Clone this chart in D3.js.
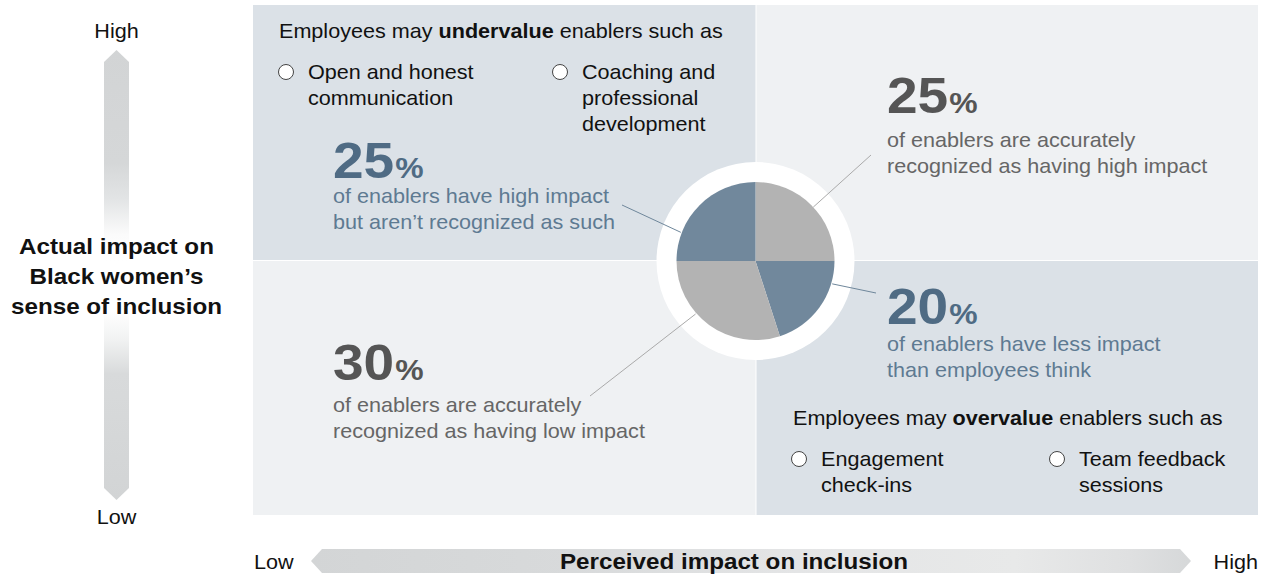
<!DOCTYPE html>
<html>
<head>
<meta charset="utf-8">
<script src="https://cdn.jsdelivr.net/npm/d3@7"></script>
<style>
  html, body { margin: 0; padding: 0; background: #fff; }
  svg { display: block; font-family: "Liberation Sans", Arial, sans-serif; }
</style>
</head>
<body>
<svg id="chart" width="1267" height="575"></svg>
<script>
// ---- data ----
const sliceKeys   = ["accurateHigh", "overvalued", "accurateLow", "undervalued"];
const sliceValues = [25, 20, 30, 25];               // share of enablers, clockwise from 12 o'clock
const sliceKinds  = ["accurate", "mismatch", "accurate", "mismatch"];

const calloutValues = { undervalued: 25, accurateHigh: 25, overvalued: 20, accurateLow: 30 };
const calloutLines = {
  undervalued:  ["of enablers have high impact", "but aren\u2019t recognized as such"],
  accurateHigh: ["of enablers are accurately", "recognized as having high impact"],
  overvalued:   ["of enablers have less impact", "than employees think"],
  accurateLow:  ["of enablers are accurately", "recognized as having low impact"]
};

const underExamples = [["Open and honest", "communication"], ["Coaching and", "professional", "development"]];
const overExamples  = [["Engagement", "check-ins"], ["Team feedback", "sessions"]];

const yAxisTitle = ["Actual impact on", "Black women\u2019s", "sense of inclusion"];
const xAxisTitle = "Perceived impact on inclusion";
const axisEnds   = ["Low", "High"];

// ---- styles ----
const C = {
  qDark: "#dbe1e7", qLight: "#eff1f3",
  blue: "#71889c", gray: "#b3b3b3",
  blueText: "#4f6b84", blueBody: "#5e7a92",
  grayText: "#555555", grayBody: "#666666",
  ink: "#111111"
};
const SX = 1.08;      // horizontal stretch of the regular type
const SXB = 1.1;      // horizontal stretch of the bold type

const svg = d3.select("#chart");
const defs = svg.append("defs");

// text placed at (x, y) and widened horizontally about its anchor
function label(parent, x, y, sx) {
  return parent.append("g").attr("transform", `translate(${x},${y}) scale(${sx},1)`)
    .append("text").attr("x", 0).attr("y", 0);
}

// ---- quadrant frame ----
const x = d3.scaleLinear().domain([0, 1]).range([253, 1258]);
const y = d3.scaleLinear().domain([0, 1]).range([515, 5]);
const gap = 1;
const quads = [
  { x0: 0,   x1: 0.5, y0: 0.5, y1: 1,   fill: C.qDark  },
  { x0: 0.5, x1: 1,   y0: 0.5, y1: 1,   fill: C.qLight },
  { x0: 0,   x1: 0.5, y0: 0,   y1: 0.5, fill: C.qLight },
  { x0: 0.5, x1: 1,   y0: 0,   y1: 0.5, fill: C.qDark  }
];
svg.append("g").selectAll("rect").data(quads).join("rect")
  .attr("x", d => x(d.x0) + (d.x0 > 0 ? gap : 0))
  .attr("y", d => y(d.y1) + (d.y1 < 1 ? gap : 0))
  .attr("width", d => x(d.x1) - x(d.x0) - (d.x0 > 0 ? gap : 0))
  .attr("height", d => y(d.y0) - y(d.y1) - (d.y1 < 1 ? gap : 0))
  .attr("fill", d => d.fill);

// ---- central pie ----
const cx = x(0.5), cy = y(0.5) + 1;
const rPie = 79, rRing = 99;
svg.append("circle").attr("cx", cx).attr("cy", cy).attr("r", rRing).attr("fill", "#fff");

const pie = d3.pie().sort(null).startAngle(0).endAngle(2 * Math.PI);
const arcs = pie(sliceValues);
const arc = d3.arc().innerRadius(0).outerRadius(rPie);
const pieG = svg.append("g").attr("transform", `translate(${cx},${cy})`);
pieG.selectAll("path").data(arcs).join("path")
  .attr("d", arc)
  .attr("fill", (d, i) => sliceKinds[i] === "accurate" ? C.gray : C.blue);

// ---- leader lines (angle on pie edge in degrees, outer end point) ----
const leaders = [
  { key: "undervalued",  angle: 291,   r: 80, to: [622, 205], color: "#6f879b" },
  { key: "accurateHigh", angle: 47,    r: 79, to: [871, 155], color: "#aaaaaa" },
  { key: "overvalued",   angle: 106.6, r: 80, to: [876, 293], color: "#6f879b" },
  { key: "accurateLow",  angle: 228.5, r: 80, to: [590, 396], color: "#aaaaaa" }
];
svg.append("g").selectAll("line").data(leaders).join("line")
  .attr("x1", d => cx + d.r * Math.sin(d.angle * Math.PI / 180))
  .attr("y1", d => cy - d.r * Math.cos(d.angle * Math.PI / 180))
  .attr("x2", d => d.to[0]).attr("y2", d => d.to[1])
  .attr("stroke", d => d.color).attr("stroke-width", 1);

// ---- callouts ----
const callouts = [
  { key: "undervalued",  x: 333, y: 178, big: C.blueText, body: C.blueBody, off: 25 },
  { key: "accurateHigh", x: 887, y: 113, big: C.grayText, body: C.grayBody, off: 34 },
  { key: "overvalued",   x: 887, y: 324, big: C.blueText, body: C.blueBody, off: 27 },
  { key: "accurateLow",  x: 333, y: 380, big: C.grayText, body: C.grayBody, off: 32 }
];
const lh = 26;
callouts.forEach(c => {
  const t = label(svg, c.x, c.y, SXB).attr("fill", c.big).attr("font-weight", "bold");
  t.append("tspan").attr("font-size", 50).text(calloutValues[c.key]);
  t.append("tspan").attr("font-size", 29).attr("dx", 1).text("%");
  calloutLines[c.key].forEach((line, i) => {
    label(svg, c.x, c.y + c.off + i * lh, SX)
      .attr("fill", c.body).attr("font-size", 20).text(line);
  });
});

// ---- example lists ----
function exampleBlock(hx, hy, word, items, cols, rowY) {
  const h = label(svg, hx, hy, SX).attr("fill", C.ink).attr("font-size", 20);
  h.append("tspan").text("Employees may ");
  h.append("tspan").attr("font-weight", "bold").text(word);
  h.append("tspan").text(" enablers such as");
  items.forEach((lines, i) => {
    svg.append("circle").attr("cx", cols[i] - 22).attr("cy", rowY - 7).attr("r", 7.5)
      .attr("fill", "#fff").attr("stroke", "#444").attr("stroke-width", 1);
    lines.forEach((ln, j) => {
      label(svg, cols[i], rowY + j * lh, SX).attr("fill", C.ink).attr("font-size", 20).text(ln);
    });
  });
}
exampleBlock(279, 38, "undervalue", underExamples, [308, 582], 79);
exampleBlock(793, 425, "overvalue", overExamples, [821, 1079], 466);

// ---- vertical axis arrow ----
const vg = defs.append("linearGradient").attr("id", "vgrad").attr("x1", 0).attr("y1", 0).attr("x2", 0).attr("y2", 1);
[[0, "#d2d4d5"], [0.25, "#d5d7d8"], [0.33, "#e2e4e5"], [0.41, "#fbfbfb"], [0.47, "#ffffff"],
 [0.58, "#ffffff"], [0.64, "#f2f3f3"], [0.72, "#d8dadb"], [1, "#d2d4d5"]]
  .forEach(s => vg.append("stop").attr("offset", s[0]).attr("stop-color", s[1]));
const vx0 = 104, vx1 = 129, vTop = 50, vBot = 500, tipV = 12;
const vmid = (vx0 + vx1) / 2;
svg.append("path")
  .attr("d", d3.line()([[vmid, vTop], [vx1, vTop + tipV], [vx1, vBot - tipV], [vmid, vBot],
                        [vx0, vBot - tipV], [vx0, vTop + tipV]]) + "Z")
  .attr("fill", "url(#vgrad)");
label(svg, vmid, 38, SX).attr("text-anchor", "middle").attr("font-size", 20).attr("fill", C.ink).text(axisEnds[1]);
label(svg, vmid, 524, SX).attr("text-anchor", "middle").attr("font-size", 20).attr("fill", C.ink).text(axisEnds[0]);
yAxisTitle.forEach((t, i) => {
  label(svg, vmid, 254 + i * 30, SXB).attr("text-anchor", "middle")
    .attr("font-size", 22).attr("font-weight", "bold").attr("fill", C.ink).text(t);
});

// ---- horizontal axis arrow ----
const hg = defs.append("linearGradient").attr("id", "hgrad").attr("x1", 0).attr("y1", 0).attr("x2", 1).attr("y2", 0);
[[0, "#d3d5d6"], [0.3, "#d8dadb"], [0.55, "#e4e5e6"], [0.8, "#e8e9e9"], [0.93, "#dfe0e1"], [1, "#d6d8d9"]]
  .forEach(s => hg.append("stop").attr("offset", s[0]).attr("stop-color", s[1]));
const hx0 = 311, hx1 = 1191, hy0 = 549, hy1 = 573, tipH = 11;
const hmid = (hy0 + hy1) / 2;
svg.append("path")
  .attr("d", d3.line()([[hx0, hmid], [hx0 + tipH, hy0], [hx1 - tipH, hy0], [hx1, hmid],
                        [hx1 - tipH, hy1], [hx0 + tipH, hy1]]) + "Z")
  .attr("fill", "url(#hgrad)");
label(svg, 254, 569, SX).attr("font-size", 20).attr("fill", C.ink).text(axisEnds[0]);
label(svg, 1258, 569, SX).attr("text-anchor", "end").attr("font-size", 20).attr("fill", C.ink).text(axisEnds[1]);
label(svg, 734, 569, SXB).attr("text-anchor", "middle")
  .attr("font-size", 22).attr("font-weight", "bold").attr("fill", C.ink).text(xAxisTitle);
</script>
</body>
</html>
